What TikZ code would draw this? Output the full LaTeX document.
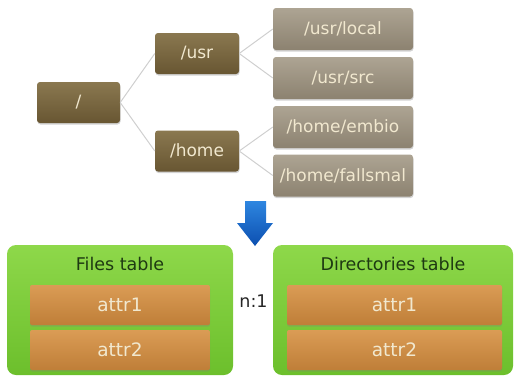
\documentclass[tikz,border=0pt]{standalone}
\usepackage{fontspec}
\setmainfont{DejaVu Sans}
\usetikzlibrary{shadows}
\definecolor{dirtop}{HTML}{8A7850}
\definecolor{dirbot}{HTML}{685632}
\definecolor{leaftop}{HTML}{ADA493}
\definecolor{leafbot}{HTML}{8C8270}
\definecolor{tabtop}{HTML}{8ED84A}
\definecolor{tabbot}{HTML}{6CBF2C}
\definecolor{attrtop}{HTML}{DA9C55}
\definecolor{attrbot}{HTML}{BF7E38}
\definecolor{cream}{HTML}{F1E8CF}
\definecolor{titlegreen}{HTML}{1E3A12}
\definecolor{linkgray}{HTML}{CFCFCF}
\definecolor{arrtop}{HTML}{2E86E0}
\definecolor{arrbot}{HTML}{0C4FB0}
\tikzset{
  dirbox/.style={rectangle, rounded corners=3pt, top color=dirtop, bottom color=dirbot,
    text=cream, font=\fontsize{17}{20}\selectfont, inner sep=0pt,
    drop shadow={shadow xshift=0.5pt, shadow yshift=-1.5pt, opacity=0.35}},
  leafbox/.style={rectangle, rounded corners=3pt, top color=leaftop, bottom color=leafbot,
    text=cream, font=\fontsize{17}{20}\selectfont, inner sep=0pt,
    minimum width=140pt, minimum height=42pt,
    drop shadow={shadow xshift=0.5pt, shadow yshift=-1.5pt, opacity=0.35}},
  tablebox/.style={rectangle, rounded corners=9pt, top color=tabtop, bottom color=tabbot,
    minimum height=130pt, inner sep=0pt},
  attrbox/.style={rectangle, rounded corners=2pt, top color=attrtop, bottom color=attrbot,
    text=cream, font=\fontsize{18.5}{21}\selectfont, inner sep=0pt, minimum height=40pt,
    drop shadow={shadow xshift=0pt, shadow yshift=-1.5pt, opacity=0.3}},
  tabtitle/.style={text=titlegreen, font=\fontsize{17.5}{21}\selectfont, inner sep=0pt},
  link/.style={draw=linkgray, line width=1pt}
}
\begin{document}
\begin{tikzpicture}[x=1pt, y=-1pt]
  \useasboundingbox (0,0) rectangle (514,376);

  % directory tree
  \node[dirbox, minimum width=83pt, minimum height=41pt] (root) at (78.5,102.5) {/};
  \node[dirbox, minimum width=84pt, minimum height=41pt] (usr) at (197,53.5) {/usr};
  \node[dirbox, minimum width=84pt, minimum height=41pt] (home) at (197,151) {/home};

  \node[leafbox] (usrlocal) at (343,29) {/usr/local};
  \node[leafbox] (usrsrc) at (343,78) {/usr/src};
  \node[leafbox] (embio) at (343,127) {/home/embio};
  \node[leafbox] (fallsmal) at (343,175.5) {/home/fallsmal};

  \draw[link] (root.east) -- (usr.west);
  \draw[link] (root.east) -- (home.west);
  \draw[link] (usr.east) -- (usrlocal.west);
  \draw[link] (usr.east) -- (usrsrc.west);
  \draw[link] (home.east) -- (embio.west);
  \draw[link] (home.east) -- (fallsmal.west);

  % transformation arrow
  \path[top color=arrtop, bottom color=arrbot]
    (245,201) -- (266,201) -- (266,223) -- (273,223) -- (255,246) -- (237,223) -- (245,223) -- cycle;

  % tables
  \node[tablebox, minimum width=226pt] (files) at (120,310) {};
  \node[tablebox, minimum width=240pt] (dirs) at (393,310) {};

  \node[tabtitle] (filestitle) at (120,264) {Files table};
  \node[tabtitle] (dirstitle) at (393,264) {Directories table};

  \node[attrbox, minimum width=180pt] (fa1) at (120,305) {attr1};
  \node[attrbox, minimum width=180pt] (fa2) at (120,350) {attr2};
  \node[attrbox, minimum width=215pt] (da1) at (394.5,305) {attr1};
  \node[attrbox, minimum width=215pt] (da2) at (394.5,350) {attr2};

  \node[font=\fontsize{17.5}{21}\selectfont, text=black!85, inner sep=0pt] (card) at (253.5,301) {n:1};
\end{tikzpicture}
\end{document}
